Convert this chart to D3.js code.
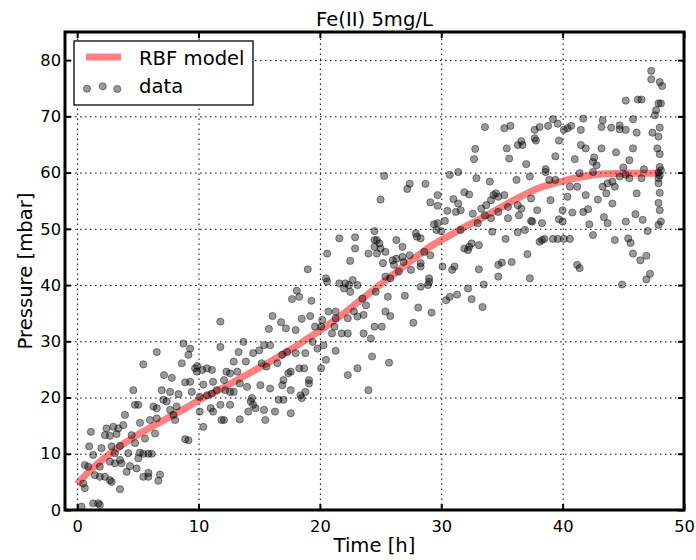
<!DOCTYPE html>
<html>
<head>
<meta charset="UTF-8">
<title>Fe(II) 5mg/L</title>
<script src="https://d3js.org/d3.v7.min.js"></script>
<style>
  body { margin: 0; background: #fff; }
  svg { display: block; font-family: "DejaVu Sans", sans-serif; }
</style>
</head>
<body>
<svg id="chart" width="696" height="560"></svg>
<script>
var xTicks = [0, 10, 20, 30, 40, 50];
var yTicks = [0, 10, 20, 30, 40, 50, 60, 70, 80];

// RBF model (time in h, pressure in mbar)
var modelTime = [0, 1, 2, 3, 4, 5, 6, 7, 8, 9, 10, 11, 12, 13, 14, 15, 16, 17, 18, 19, 20, 21, 22, 23, 24,
                 25, 26, 27, 28, 29, 30, 31, 32, 33, 34, 35, 36, 37, 38, 39, 40, 41, 42, 43, 44, 45, 46, 47, 48];
var modelPressure = [4.6, 6.9, 8.8, 10.5, 12.0, 13.4, 14.6, 15.8, 17.0, 18.2, 19.5, 20.6, 21.7, 22.9, 24.1, 25.3,
                     26.5, 27.8, 29.1, 30.5, 31.9, 33.4, 35.0, 36.7, 38.4, 40.1, 41.8, 43.5, 45.1, 46.7, 48.0,
                     49.2, 50.4, 51.5, 52.7, 53.9, 55.1, 56.2, 57.2, 57.9, 58.5, 59.0, 59.4, 59.7, 59.8, 59.9,
                     59.9, 59.9, 59.9];

// measured data [time h, pressure mbar]
var dataPoints = [
  [3.94,16.9],[1.13,13.9],[2.42,14.5],[2.98,14.8],[3.39,14.5],[3.80,15.1],[2.29,13.3],[2.70,13.2],[3.25,13.5],
  [5.18,15.5],[6.0,16.0],[6.56,16.3],[6.42,13.6],[8.07,16.0],[7.93,16.9],[7.66,17.8],[10.1,17.5],[10.4,14.8],
  [11.9,16.0],[8.9,12.6],[9.17,12.4],[5.59,12.7],[4.49,13.3],[4.77,11.9],[0.99,11.3],[2.01,11.0],[1.32,9.8],
  [2.84,11.3],[3.53,11.4],[3.11,10.1],[4.21,10.1],[5.18,10.2],[5.45,10.0],[5.87,10.0],[6.14,10.0],[5.04,9.2],
  [3.53,8.9],[3.66,8.3],[0.63,8.0],[0.91,7.7],[2.70,8.6],[3.11,8.3],[4.35,7.8],[4.9,7.4],[4.08,6.8],[1.87,7.7],
  [1.46,6.2],[1.87,5.9],[2.29,5.9],[2.70,5.3],[2.84,5.0],[5.87,6.6],[5.45,5.9],[5.87,5.9],[6.83,6.3],[6.69,5.2],
  [3.53,3.7],[0.63,3.9],[0.5,4.7],[1.32,1.2],[1.74,1.2],[1.87,0.9],[0.36,0.6],

  [11.8,33.5],[11.8,29.0],[8.76,29.6],[9.31,28.7],[9.17,27.6],[6.56,28.1],[5.45,25.9],[8.62,26.1],[9.72,25.2],
  [9.86,24.6],[10.7,25.2],[11.1,24.9],[7.16,24.0],[7.8,23.5],[8.9,22.7],[9.31,22.8],[10.4,22.3],[11.2,22.8],
  [12.1,23.1],[4.63,21.3],[6.97,21.3],[7.66,21.0],[8.35,20.6],[9.45,21.0],[10.1,20.1],[10.7,20.4],[11.1,20.7],
  [11.5,21.3],[4.77,18.7],[5.04,18.7],[6.28,18.4],[6.56,18.1],[7.1,19.6],[7.38,19.3],[8.2,18.4],[11.0,18.1],
  [11.2,17.5],[11.8,18.7],[9.9,25.6],[10.3,24.9],

  [13.7,29.9],[13.3,28.1],[14.5,27.9],[15.0,28.4],[15.4,29.3],[15.9,29.3],[13.9,26.4],[12.9,26.4],[15.2,26.1],
  [15.6,25.5],[16.5,26.1],[16.9,27.6],[17.3,28.1],[18.0,27.9],[18.8,27.9],[19.4,29.9],[19.8,28.7],[20.3,29.3],
  [21.3,28.3],[21.0,31.4],[21.8,31.4],[22.3,31.4],[23.6,31.4],[20.5,26.7],[20.1,25.2],[22.3,24.0],[23.1,25.2],
  [24.0,21.3],[12.3,24.6],[12.6,24.3],[13.2,24.6],[13.4,22.5],[14.0,21.9],[12.2,21.3],[12.6,21.0],[12.9,21.0],
  [15.1,22.2],[15.9,21.6],[16.9,22.2],[17.0,23.1],[17.4,24.3],[17.6,24.6],[18.3,25.2],[18.7,25.2],[17.6,21.3],
  [19.1,23.1],[19.1,22.5],[18.8,21.0],[18.4,20.4],[18.5,19.9],[16.6,19.6],[17.0,19.6],[14.4,19.9],[14.3,19.3],
  [14.5,18.7],[14.7,18.1],[15.4,17.8],[14.1,17.5],[16.3,17.5],[17.6,17.2],[12.6,18.7],[12.1,16.0],[13.4,16.1],
  [15.5,16.0],

  [21.6,48.3],[22.9,48.5],[22.9,46.5],[24.0,45.6],[24.5,48.0],[20.6,45.6],[22.5,44.3],[19.0,42.8],[20.5,41.2],
  [20.6,40.6],[21.6,40.3],[22.1,40.3],[22.0,39.4],[22.4,40.0],[22.7,40.9],[23.1,40.0],[22.5,38.8],[23.5,37.6],
  [23.8,36.4],[24.6,38.8],[18.1,39.0],[17.7,37.5],[18.3,37.9],[19.3,37.2],[20.7,35.3],[21.3,35.3],[22.8,35.3],
  [23.1,34.4],[23.6,34.7],[16.1,34.5],[16.8,33.4],[17.2,32.3],[18.0,32.0],[15.8,32.2],[18.5,34.0],[19.2,34.5],
  [20.2,33.8],[19.6,32.6],[20.1,32.6],[21.2,32.6],[24.5,32.6],[22.3,34.1],[21.3,34.1],

  [24.5,46.8],[25.0,46.5],[25.4,45.9],[24.7,45.6],[25.2,43.9],[26.0,44.4],[26.3,44.7],[26.8,45.0],[27.4,45.3],
  [26.9,44.1],[26.1,43.6],[27.5,42.7],[28.3,43.9],[28.6,45.9],[29.1,45.3],[28.3,43.3],[25.8,41.2],[25.4,41.5],
  [26.5,42.4],[29.0,41.2],[29.0,40.6],[28.3,39.7],[28.9,40.0],[30.1,43.3],[30.9,42.7],[31.1,43.3],[31.9,46.5],
  [32.2,46.2],[32.3,46.8],[33.1,47.1],[37.1,45.5],[35.0,44.0],[34.7,43.6],[35.8,44.1],[34.7,41.5],[37.3,41.2],
  [33.1,42.8],[33.5,40.1],[32.2,39.4],[30.7,37.9],[30.4,37.3],[31.3,38.3],[32.5,37.5],[33.4,36.1],[25.6,37.9],
  [27.0,38.1],[28.1,36.0],[29.2,35.1],[25.4,35.3],[25.8,34.5],[27.7,33.3],[25.1,32.6],[24.2,30.5],[24.3,27.3],
  [25.7,26.2],

  [33.6,68.1],[35.2,67.9],[35.7,68.3],[32.8,64.2],[32.7,62.4],[35.4,64.3],[35.6,62.5],[36.3,64.9],[36.6,65.6],
  [36.7,64.9],[37.0,61.5],[25.3,59.4],[27.4,58.0],[27.2,57.1],[28.7,58.0],[25.0,55.2],[30.7,59.6],[31.4,60.1],
  [32.9,59.0],[34.0,58.4],[36.2,58.7],[37.3,59.3],[29.7,56.0],[29.1,54.7],[29.7,54.1],[31.9,56.5],[32.3,56.1],
  [31.0,55.3],[31.4,54.5],[30.5,53.2],[31.2,53.0],[31.6,53.3],[32.6,52.7],[33.3,53.6],[33.7,54.2],[34.1,55.1],
  [34.3,56.0],[34.5,56.3],[34.7,55.7],[35.2,56.0],[33.6,52.4],[34.1,51.9],[34.7,53.0],[35.5,53.9],[36.3,54.2],
  [36.6,53.6],[36.4,52.4],[37.4,51.4],[33.0,51.0],[34.2,49.5],[35.5,51.9],[35.3,48.2],[36.3,49.4],[36.9,49.8],
  [29.4,50.8],[29.7,51.0],[30.3,51.4],[29.6,49.8],[30.0,49.6],[27.9,49.2],[28.0,48.6],[28.3,48.3],[26.3,48.0],
  [26.8,46.8],[24.5,49.6],[24.7,48.0],[24.9,47.4],[32.5,47.4],[31.6,49.8],

  [38.6,60.1],[37.4,55.4],[38.9,58.7],[39.4,58.7],[39.0,55.1],[40.6,57.5],[41.2,57.5],[40.4,55.7],[37.9,53.3],
  [37.5,51.3],[38.3,51.0],[40.0,53.3],[39.7,51.7],[40.0,51.3],[40.8,52.9],[41.7,53.0],[42.1,53.5],[42.2,50.8],
  [42.5,48.9],[41.9,56.0],[42.5,60.1],[42.9,55.2],[43.3,57.5],[43.6,56.3],[43.7,58.1],[44.1,58.4],[44.3,57.5],
  [44.1,54.5],[43.4,52.1],[43.7,51.0],[45.2,51.3],[46.0,52.6],[46.6,51.6],[47.0,49.6],[47.9,50.7],[48.1,51.3],
  [48.0,53.3],[47.9,54.6],[48.0,56.4],[47.9,58.1],[47.9,59.0],[46.1,56.3],[46.5,59.0],[45.2,59.6],[44.7,59.3],
  [45.5,59.0],[41.4,59.9],[38.3,48.0],[38.1,47.7],[38.5,48.2],[39.2,48.2],[39.6,48.2],[40.1,48.2],[40.6,48.2],
  [44.3,48.0],[45.4,48.3],[45.6,47.5],[45.8,45.6],[46.4,44.4],[46.9,45.2],[41.2,43.6],[41.4,43.0],[44.9,40.1],
  [46.9,41.0],[47.2,42.0],

  [47.3,78.1],[47.3,76.6],[48.0,76.1],[48.2,75.4],[45.2,72.8],[46.2,73.0],[46.5,73.0],[47.9,72.3],[48.1,72.3],
  [47.7,71.1],[47.6,70.2],[37.7,67.6],[38.1,68.1],[38.8,68.3],[39.2,69.5],[39.6,68.7],[40.1,67.6],[40.4,67.9],
  [40.7,68.3],[41.5,67.6],[41.7,69.6],[43.3,69.3],[43.2,68.1],[44.0,68.0],[44.7,68.4],[44.7,67.7],[45.2,67.6],
  [45.8,69.5],[46.1,67.1],[47.4,67.1],[48.0,68.0],[47.9,66.4],[37.7,66.1],[37.8,65.7],[39.7,65.7],[41.5,64.9],
  [41.9,64.3],[43.2,64.3],[44.4,63.6],[45.8,64.3],[47.8,64.3],[48.0,63.3],[39.4,62.9],[41.0,62.4],[42.6,62.7],
  [42.5,61.9],[42.8,61.3],[45.0,60.9],[45.5,62.2],[46.7,60.6],[48.0,61.0],[48.1,60.4],[38.6,60.6],[47.9,60.0],
  [48.0,59.5]
];

var svg = d3.select("#chart"),
    padL = 65, padR = 684, padT = 32, padB = 510;

var x = d3.scaleLinear().domain([-1, 50]).range([padL, padR]);
var y = d3.scaleLinear().domain([0, 85]).range([padB, padT]);

svg.append("rect").attr("width", 696).attr("height", 560).attr("fill", "#fff");

// dotted grid
var gx = svg.append("g")
    .attr("transform", "translate(0," + padB + ")")
    .call(d3.axisBottom(x).tickValues(xTicks).tickSize(-(padB - padT)).tickFormat(""));
var gy = svg.append("g")
    .attr("transform", "translate(" + padL + ",0)")
    .call(d3.axisLeft(y).tickValues(yTicks).tickSize(-(padR - padL)).tickFormat(""));
[gx, gy].forEach(function(g) {
  g.select(".domain").remove();
  g.selectAll("line").attr("stroke", "#000").attr("stroke-width", 1).attr("stroke-dasharray", "1.5,3.5");
});

svg.append("clipPath").attr("id", "plotclip")
  .append("rect").attr("x", padL).attr("y", padT).attr("width", padR - padL).attr("height", padB - padT);

var plot = svg.append("g").attr("clip-path", "url(#plotclip)");

// model line
var line = d3.line()
    .x(function(d, i) { return x(modelTime[i]); })
    .y(function(d) { return y(d); })
    .curve(d3.curveCatmullRom);

plot.append("path")
    .datum(modelPressure)
    .attr("fill", "none")
    .attr("stroke", "red")
    .attr("stroke-opacity", 0.5)
    .attr("stroke-width", 7)
    .attr("d", line);

// data points
plot.selectAll("circle.pt")
    .data(dataPoints)
    .enter().append("circle")
    .attr("class", "pt")
    .attr("cx", function(d) { return x(d[0]); })
    .attr("cy", function(d) { return y(d[1]); })
    .attr("r", 3.6)
    .attr("fill", "#000").attr("fill-opacity", 0.4)
    .attr("stroke", "#000").attr("stroke-opacity", 0.4).attr("stroke-width", 1);

// axes with inward ticks on all sides
var axB = svg.append("g").attr("transform", "translate(0," + padB + ")")
    .call(d3.axisBottom(x).tickValues(xTicks).tickSize(-6).tickPadding(10));
var axT = svg.append("g").attr("transform", "translate(0," + padT + ")")
    .call(d3.axisTop(x).tickValues(xTicks).tickSize(-6).tickFormat(""));
var axL = svg.append("g").attr("transform", "translate(" + padL + ",0)")
    .call(d3.axisLeft(y).tickValues(yTicks).tickSize(-6).tickPadding(4));
var axR = svg.append("g").attr("transform", "translate(" + padR + ",0)")
    .call(d3.axisRight(y).tickValues(yTicks).tickSize(-6).tickFormat(""));
[axB, axT, axL, axR].forEach(function(g) {
  g.select(".domain").remove();
  g.selectAll("line").attr("stroke", "#000").attr("stroke-width", 2);
  g.selectAll("text").attr("fill", "#000").style("font-size", "16.3px").style("font-family", "DejaVu Sans, sans-serif");
});

svg.append("rect")
    .attr("x", padL).attr("y", padT)
    .attr("width", padR - padL).attr("height", padB - padT)
    .attr("fill", "none").attr("stroke", "#000").attr("stroke-width", 3);

// titles
svg.append("text").attr("x", (padL + padR) / 2).attr("y", 26)
    .attr("text-anchor", "middle").style("font-size", "19.6px").text("Fe(II) 5mg/L");
svg.append("text").attr("x", (padL + padR) / 2).attr("y", 552)
    .attr("text-anchor", "middle").style("font-size", "19.6px").text("Time [h]");
svg.append("text")
    .attr("transform", "translate(31.5," + (padT + padB) / 2 + ") rotate(-90)")
    .attr("text-anchor", "middle").style("font-size", "19.6px").text("Pressure [mbar]");

// legend
var lg = svg.append("g");
lg.append("rect").attr("x", 74).attr("y", 41).attr("width", 179).attr("height", 64)
    .attr("fill", "#fff").attr("stroke", "#000").attr("stroke-width", 1.3);
lg.append("line").attr("x1", 86).attr("x2", 121).attr("y1", 57).attr("y2", 57)
    .attr("stroke", "red").attr("stroke-opacity", 0.5).attr("stroke-width", 7);
lg.append("text").attr("x", 139).attr("y", 64.5).style("font-size", "19.6px").text("RBF model");
lg.selectAll("circle")
    .data([[87, 88.7], [102.7, 86.3], [117.3, 89]])
    .enter().append("circle")
    .attr("cx", function(d) { return d[0]; })
    .attr("cy", function(d) { return d[1]; })
    .attr("r", 3.6)
    .attr("fill", "#000").attr("fill-opacity", 0.4)
    .attr("stroke", "#000").attr("stroke-opacity", 0.4).attr("stroke-width", 1);
lg.append("text").attr("x", 139).attr("y", 93).style("font-size", "19.6px").text("data");
</script>
</body>
</html>
